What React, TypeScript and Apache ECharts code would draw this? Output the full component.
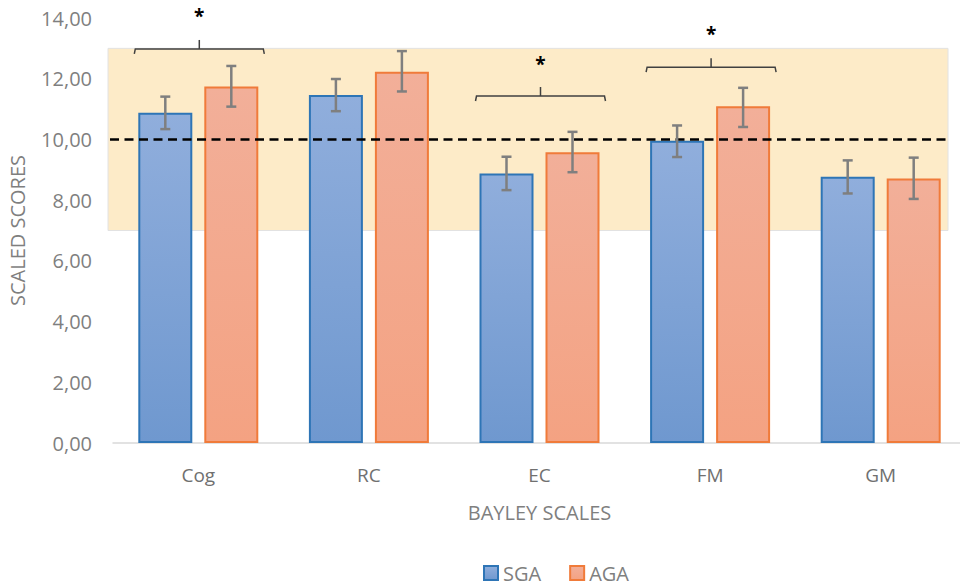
import React, { useEffect, useRef } from "react";
import * as echarts from "echarts";

const categories = ["Cog", "RC", "EC", "FM", "GM"];
const seriesNames = ["SGA", "AGA"];
const sgaMean = [10.88, 11.46, 8.88, 9.96, 8.77];
const agaMean = [11.74, 12.23, 9.58, 11.09, 8.71];
const sgaErrLow = [10.34, 10.93, 8.33, 9.42, 8.22];
const sgaErrHigh = [11.41, 11.99, 9.43, 10.46, 9.31];
const agaErrLow = [11.08, 11.58, 8.92, 10.41, 8.04];
const agaErrHigh = [12.42, 12.91, 10.25, 11.7, 9.4];
const referenceValue = 10;
const bandRange = [7, 13];
// significance brackets: category index, bracket level, star level
const bracketCats = [0, 2, 3];
const bracketLevels = [12.98, 11.43, 12.38];
const starLevels = [14.05, 12.5, 13.47];

const FONT = "'Open Sans', 'DejaVu Sans', sans-serif";
const BAR_W = 54;
const BAR_GAP = 12;
const HALF = (BAR_W + BAR_GAP) / 2;

export default function App() {
  const ref = useRef<HTMLDivElement>(null);
  useEffect(() => {
    if (!ref.current) return;
    const chart = echarts.init(ref.current, null, { renderer: "svg" });

    const errData: number[][] = [];
    categories.forEach((_, i) => {
      errData.push([i, sgaErrLow[i], sgaErrHigh[i], -1]);
      errData.push([i, agaErrLow[i], agaErrHigh[i], 1]);
    });
    const bracketData = bracketCats.map((c, k) => [c, bracketLevels[k], starLevels[k]]);

    const blueFill = new echarts.graphic.LinearGradient(0, 0, 0, 1, [
      { offset: 0, color: "#90AEDC" },
      { offset: 1, color: "#6F98CF" },
    ]);
    const orangeFill = new echarts.graphic.LinearGradient(0, 0, 0, 1, [
      { offset: 0, color: "#F2AF99" },
      { offset: 1, color: "#F4A282" },
    ]);

    const option: any = {
      animation: false,
      grid: { left: 113, width: 853, top: 18, bottom: 143, outerBoundsMode: "none", containLabel: false },
      legend: {
        data: seriesNames,
        icon: "rect",
        left: 483,
        top: 563,
        padding: 0,
        itemWidth: 14,
        itemHeight: 14,
        itemGap: 28,
        textStyle: { fontFamily: FONT, fontSize: 20, lineHeight: 20, color: "#7F7F7F", padding: [0, 0, 0, 0] },
      },
      xAxis: {
        type: "category",
        data: categories,
        axisTick: { show: false },
        axisLine: { lineStyle: { color: "#D9D9D9", width: 1.5 } },
        axisLabel: { fontFamily: FONT, fontSize: 19, color: "#707070", margin: 22 },
        name: "BAYLEY SCALES",
        nameLocation: "middle",
        nameGap: 59,
        nameTextStyle: { fontFamily: FONT, fontSize: 20, color: "#7F7F7F" },
      },
      yAxis: {
        type: "value",
        min: 0,
        max: 14,
        interval: 2,
        axisLine: { show: false },
        axisTick: { show: false },
        splitLine: { show: false },
        axisLabel: {
          fontFamily: FONT,
          fontSize: 20,
          color: "#7F7F7F",
          margin: 21,
          formatter: (v: number) => v.toFixed(2).replace(".", ","),
        },
        name: "SCALED SCORES",
        nameLocation: "middle",
        nameGap: 86,
        nameTextStyle: { fontFamily: FONT, fontSize: 20, color: "#7F7F7F" },
      },
      series: [
        {
          type: "custom",
          name: "band",
          z: 1,
          silent: true,
          data: [[0, bandRange[0], bandRange[1]]],
          renderItem: (params: any, api: any) => {
            const cs = params.coordSys;
            const yTop = api.coord([0, api.value(2)])[1];
            const yBot = api.coord([0, api.value(1)])[1];
            return {
              type: "rect",
              shape: { x: cs.x - 5, y: yTop, width: cs.width - 13, height: yBot - yTop },
              style: { fill: "#FDEBC8", stroke: "#E2E2E2", lineWidth: 1 },
            };
          },
        },
        {
          type: "bar",
          name: "SGA",
          data: sgaMean,
          barWidth: BAR_W,
          barGap: `${(BAR_GAP / BAR_W) * 100}%`,
          z: 2,
          itemStyle: { color: blueFill, borderColor: "#2E75B6", borderWidth: 2 },
        },
        {
          type: "bar",
          name: "AGA",
          data: agaMean,
          barWidth: BAR_W,
          barGap: `${(BAR_GAP / BAR_W) * 100}%`,
          z: 2,
          itemStyle: { color: orangeFill, borderColor: "#F07B3A", borderWidth: 2 },
        },
        {
          type: "custom",
          name: "refline",
          z: 3,
          silent: true,
          data: [[0, referenceValue]],
          renderItem: (params: any, api: any) => {
            const cs = params.coordSys;
            const y = api.coord([0, api.value(1)])[1];
            return {
              type: "line",
              shape: { x1: cs.x - 3, y1: y, x2: cs.x + cs.width - 18, y2: y },
              style: { stroke: "#000000", lineWidth: 2.5, lineDash: [9, 5.5] },
            };
          },
        },
        {
          type: "custom",
          name: "errors",
          z: 4,
          silent: true,
          data: errData,
          renderItem: (params: any, api: any) => {
            const c = api.value(0);
            const side = api.value(3);
            const p1 = api.coord([c, api.value(1)]);
            const p2 = api.coord([c, api.value(2)]);
            const x = p1[0] + side * HALF;
            const cap = 5;
            const style = { stroke: "#7F7F7F", lineWidth: 2.5 };
            return {
              type: "group",
              children: [
                { type: "line", shape: { x1: x, y1: p1[1], x2: x, y2: p2[1] }, style },
                { type: "line", shape: { x1: x - cap, y1: p1[1], x2: x + cap, y2: p1[1] }, style },
                { type: "line", shape: { x1: x - cap, y1: p2[1], x2: x + cap, y2: p2[1] }, style },
              ],
            };
          },
        },
        {
          type: "custom",
          name: "brackets",
          z: 4,
          silent: true,
          data: bracketData,
          renderItem: (params: any, api: any) => {
            const c = api.value(0);
            const p = api.coord([c, api.value(1)]);
            const s = api.coord([c, api.value(2)]);
            const xl = p[0] - HALF - 31;
            const xr = p[0] + HALF + 33;
            const xm = (xl + xr) / 2;
            const y = p[1];
            const style = { stroke: "#404040", lineWidth: 1.5, fill: "none" };
            return {
              type: "group",
              children: [
                {
                  type: "polyline",
                  shape: { points: [[xl, y + 5], [xl + 1, y], [xr - 1, y], [xr, y + 5]] },
                  style,
                },
                { type: "line", shape: { x1: xm, y1: y, x2: xm, y2: y - 9 }, style },
                {
                  type: "text",
                  style: {
                    text: "*",
                    x: xm,
                    y: s[1],
                    align: "center",
                    verticalAlign: "middle",
                    fontFamily: FONT,
                    fontSize: 19,
                    fontWeight: "bold",
                    fill: "#000000",
                  },
                },
              ],
            };
          },
        },
      ],
    };
    chart.setOption(option);
    return () => chart.dispose();
  }, []);
  return (
    <div
      ref={ref}
      style={{ position: "fixed", left: 0, top: 0, width: 960, height: 586, background: "#fff" }}
    />
  );
}
